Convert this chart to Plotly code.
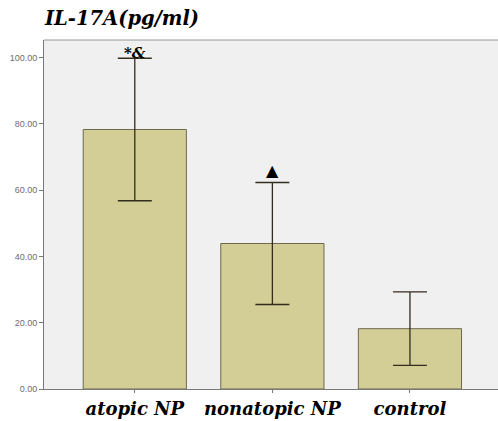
import plotly.graph_objects as go

categories = ["atopic NP", "nonatopic NP", "control"]
means = [78.3, 43.9, 18.2]
errors = [21.5, 18.4, 11.1]
tick_vals = [0, 20, 40, 60, 80, 100]
tick_text = ["0.00", "20.00", "40.00", "60.00", "80.00", "100.00"]
marks = ["*&", "▲", ""]

serif = "DejaVu Serif, serif"

fig = go.Figure()
fig.add_trace(go.Bar(
    x=[0, 1, 2], y=means, width=0.75,
    marker=dict(color="rgb(211,205,150)", line=dict(color="rgb(110,105,80)", width=1)),
    error_y=dict(type="data", array=errors, visible=True, color="rgb(50,45,30)", thickness=1.3, width=17),
))

for i, (m, e, t) in enumerate(zip(means, errors, marks)):
    if t:
        fig.add_annotation(x=i, y=m + e, text=("<b><i>%s</i></b>" % t) if t != "▲" else t,
                           showarrow=False, yanchor="bottom",
                           yshift=1 if t == "▲" else -6,
                           font=dict(family=serif, size=16 if t == "▲" else 15, color="black"))

fig.add_annotation(xref="paper", yref="paper", x=0.0, y=1.0, xanchor="left", yanchor="bottom", yshift=8,
                   xshift=-2,
                   text="<b><i>IL-17A(pg/ml)</i></b>", showarrow=False,
                   font=dict(family=serif, size=19.5, color="black"))

fig.update_layout(
    width=498, height=421,
    margin=dict(l=44, r=0, t=40, b=32, autoexpand=False),
    paper_bgcolor="white", plot_bgcolor="rgb(240,240,240)",
    showlegend=False,
    xaxis=dict(range=[-0.66, 2.64], tickvals=[0, 1, 2],
               ticktext=["<b><i>%s</i></b>" % c for c in categories],
               tickfont=dict(family=serif, size=18, color="black"),
               showline=True, linecolor="rgb(120,120,120)", linewidth=1,
               ticks="outside", ticklen=3, tickcolor="rgb(120,120,120)",
               showgrid=False, zeroline=False, automargin=False),
    yaxis=dict(range=[0, 105.3], tickvals=tick_vals, ticktext=tick_text,
               tickfont=dict(family="Liberation Sans, Arial, sans-serif", size=9, color="rgb(110,110,110)"),
               showline=True, linecolor="rgb(120,120,120)", linewidth=1,
               ticks="outside", ticklen=4, tickcolor="rgb(120,120,120)",
               showgrid=False, zeroline=False, automargin=False),
)
fig.add_shape(type="line", xref="paper", yref="paper", x0=0, x1=1, y0=1, y1=1,
              line=dict(color="rgb(150,150,150)", width=1))

fig.write_html("out.html", config={"displayModeBar": False},
               post_script="document.body.style.margin='0';")
